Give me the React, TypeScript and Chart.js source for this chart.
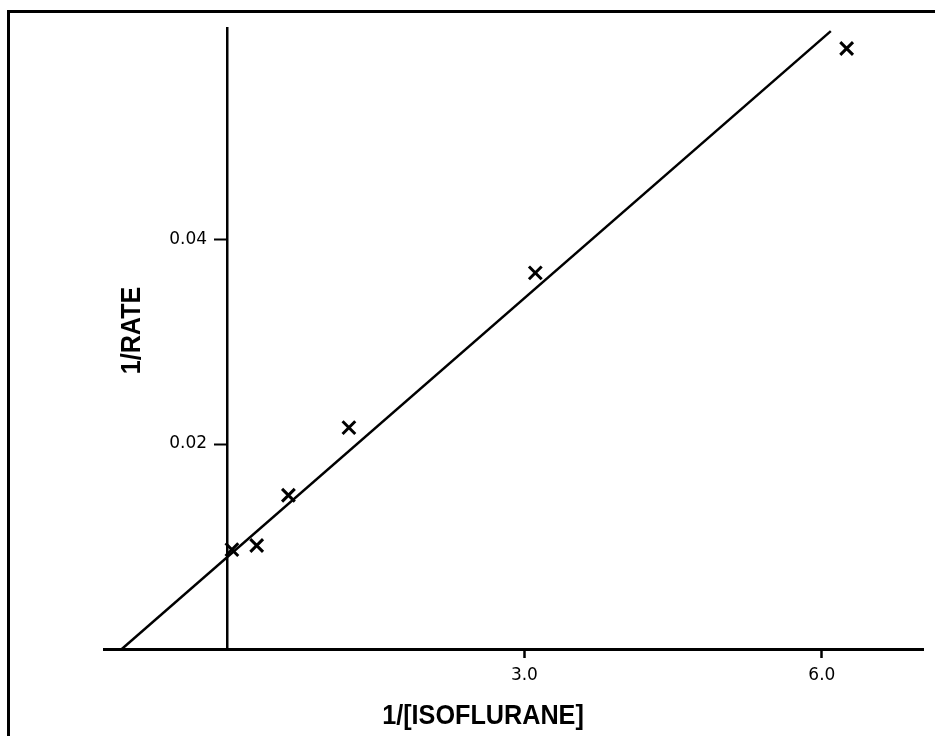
import { useEffect, useRef } from "react";
import { Chart, registerables } from "chart.js";

Chart.register(...registerables);

// Measured reciprocal points: 1/[isoflurane] vs 1/rate
const pointX = [0.05, 0.3, 0.62, 1.23, 3.11, 6.25];
const pointY = [0.0097, 0.0101, 0.015, 0.0216, 0.0367, 0.0586];

// Straight-line fit, drawn from the x-intercept to its upper end
const fitX = [-1.06, 6.09];
const fitY = [0, 0.0603];

// Axis ticks and titles
const xTicks = [3, 6];
const yTicks = [0.02, 0.04];
const xTitle = "1/[ISOFLURANE]";
const yTitle = "1/RATE";

const X_MIN = -1.24;
const X_MAX = 7.02;
const Y_MIN = 0;
const Y_MAX = 0.0606;
// x value at which the y tick labels end (just left of the tick marks)
const Y_LABEL_X = -0.2;

const WIDTH = 935;
const HEIGHT = 736;

const tickFont = { family: "'DejaVu Sans', sans-serif", size: 17 };
const titleFont = "bold 28px 'Liberation Sans', Arial, sans-serif";

export default function App() {
  const ref = useRef<HTMLCanvasElement>(null);

  useEffect(() => {
    const canvas = ref.current;
    if (!canvas) return;

    // Bold axis titles, slightly condensed
    const titlesPlugin = {
      id: "axisTitles",
      afterDraw(chart: any) {
        const { ctx, chartArea } = chart;
        ctx.save();
        ctx.fillStyle = "#000";
        ctx.font = titleFont;
        ctx.textAlign = "center";
        ctx.textBaseline = "middle";

        ctx.save();
        ctx.translate(chartArea.left + 379, chartArea.bottom + 67);
        ctx.scale(0.9, 1);
        ctx.fillText(xTitle, 0, 0);
        ctx.restore();

        ctx.save();
        ctx.translate(chartArea.left + 28, (chartArea.top + chartArea.bottom) / 2 - 8);
        ctx.rotate(-Math.PI / 2);
        ctx.scale(0.9, 1);
        ctx.fillText(yTitle, 0, 0);
        ctx.restore();

        ctx.restore();
      },
    };

    const hiddenGrid = { display: false };

    const chart = new Chart(canvas, {
      type: "scatter",
      data: {
        datasets: [
          {
            label: "fit",
            data: fitX.map((x, i) => ({ x, y: fitY[i] })),
            showLine: true,
            borderColor: "#000",
            borderWidth: 2.5,
            pointRadius: 0,
            fill: false,
          },
          {
            label: "data",
            data: pointX.map((x, i) => ({ x, y: pointY[i] })),
            showLine: false,
            pointStyle: "crossRot",
            pointRadius: 9,
            pointBorderWidth: 3,
            borderColor: "#000",
            backgroundColor: "#000",
          },
        ],
      },
      options: {
        animation: false,
        responsive: false,
        maintainAspectRatio: false,
        devicePixelRatio: 1,
        layout: { padding: { left: 104, right: 5, top: 28, bottom: 87 } },
        plugins: {
          legend: { display: false },
          tooltip: { enabled: false },
        },
        scales: {
          x: {
            type: "linear",
            min: X_MIN,
            max: X_MAX,
            position: { y: 0 },
            afterBuildTicks: (scale: any) => {
              scale.ticks = xTicks.map((v) => ({ value: v }));
            },
            ticks: {
              color: "#000",
              font: tickFont,
              padding: 9,
              maxRotation: 0,
              callback: (v: any) => Number(v).toFixed(1),
            },
            grid: {
              display: true,
              drawOnChartArea: false,
              drawTicks: true,
              tickLength: 7,
              tickWidth: 2.5,
              tickColor: "#000",
            },
            border: { display: true, color: "#000", width: 3 },
          },
          // y axis line and tick marks, crossing at x = 0
          y: {
            type: "linear",
            min: Y_MIN,
            max: Y_MAX,
            position: { x: 0 },
            afterBuildTicks: (scale: any) => {
              scale.ticks = yTicks.map((v) => ({ value: v }));
            },
            ticks: { display: false },
            grid: {
              display: true,
              drawOnChartArea: false,
              drawTicks: true,
              tickLength: 12,
              tickWidth: 2,
              tickColor: "#000",
            },
            border: { display: true, color: "#000", width: 2.5 },
          },
          // y tick labels, set just left of the tick marks
          yLabels: {
            type: "linear",
            axis: "y",
            min: Y_MIN,
            max: Y_MAX,
            position: { x: Y_LABEL_X },
            afterBuildTicks: (scale: any) => {
              scale.ticks = yTicks.map((v) => ({ value: v }));
            },
            ticks: {
              color: "#000",
              font: tickFont,
              padding: 0,
              callback: (v: any) => Number(v).toFixed(2),
            },
            grid: hiddenGrid,
            border: { display: false },
          },
        },
      },
      plugins: [titlesPlugin],
    } as any);

    return () => chart.destroy();
  }, []);

  return (
    <div
      style={{
        position: "fixed",
        left: 0,
        top: 0,
        width: WIDTH,
        height: HEIGHT,
        overflow: "hidden",
        background: "#fff",
      }}
    >
      <canvas
        ref={ref}
        width={WIDTH}
        height={HEIGHT}
        style={{ display: "block", width: WIDTH, height: HEIGHT }}
      />
      {/* open frame along the top and left edges */}
      <div
        style={{
          position: "absolute",
          left: 7,
          top: 10,
          width: WIDTH + 20,
          height: HEIGHT + 20,
          borderTop: "3px solid #000",
          borderLeft: "3px solid #000",
          pointerEvents: "none",
        }}
      />
    </div>
  );
}
